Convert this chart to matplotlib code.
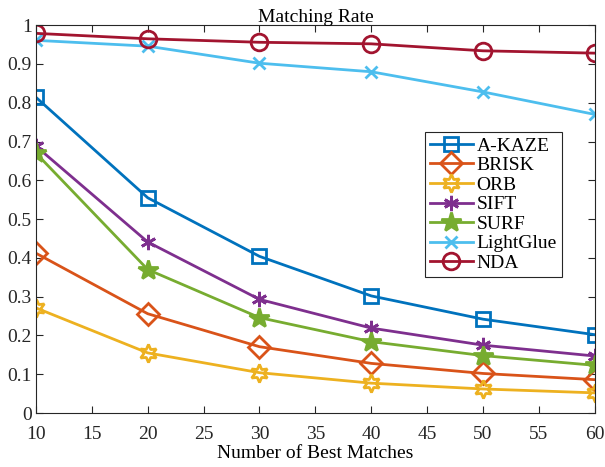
import matplotlib
matplotlib.use('Agg')
import matplotlib.pyplot as plt

plt.rcParams['font.family'] = ['Liberation Serif', 'DejaVu Serif']

matches = [10, 20, 30, 40, 50, 60]
akaze = [0.814, 0.555, 0.404, 0.302, 0.242, 0.202]
brisk = [0.412, 0.256, 0.171, 0.128, 0.102, 0.086]
orb = [0.271, 0.155, 0.104, 0.077, 0.062, 0.052]
sift = [0.688, 0.441, 0.293, 0.219, 0.175, 0.147]
surf = [0.670, 0.370, 0.246, 0.184, 0.148, 0.123]
lightglue = [0.961, 0.946, 0.902, 0.880, 0.828, 0.770]
nda = [0.979, 0.965, 0.956, 0.952, 0.934, 0.928]

names = ['A-KAZE', 'BRISK', 'ORB', 'SIFT', 'SURF', 'LightGlue', 'NDA']
series = [akaze, brisk, orb, sift, surf, lightglue, nda]
colors = ['#0072BD', '#D95319', '#EDB120', '#7E2F8E', '#77AC30', '#4DBEEE', '#A2142F']
markers = ['s', 'D', (6, 1, 0), (6, 2, 0), '*', 'x', 'o']
sizes = [10, 11, 13, 11, 15, 9, 12]
fills = ['none', 'none', 'none', None, None, None, 'none']

fig = plt.figure(figsize=(6.05, 4.67), dpi=100)
ax = fig.add_axes([0.0595, 0.1156, 0.9235, 0.8304])

for name, vals, c, m, s, f in zip(names, series, colors, markers, sizes, fills):
    kw = dict(color=c, marker=m, markersize=s, linewidth=2.0, markeredgewidth=2.0, label=name)
    if f is not None:
        kw['markerfacecolor'] = f
    else:
        kw['markerfacecolor'] = c
    ax.plot(matches, vals, **kw)

ax.set_xlim(10, 60)
ax.set_ylim(0, 1)
ax.set_xticks([10, 15, 20, 25, 30, 35, 40, 45, 50, 55, 60])
ax.set_yticks([0, 0.1, 0.2, 0.3, 0.4, 0.5, 0.6, 0.7, 0.8, 0.9, 1])
ax.set_yticklabels(['0', '0.1', '0.2', '0.3', '0.4', '0.5', '0.6', '0.7', '0.8', '0.9', '1'])
ax.tick_params(direction='in', top=True, right=True, labelsize=14, colors='#262626', length=5)
ax.tick_params(axis='x', pad=9)
ax.tick_params(axis='y', pad=3)
for sp in ax.spines.values():
    sp.set_color('#262626')
    sp.set_linewidth(0.8)
ax.set_xlabel('Number of Best Matches', fontsize=14, labelpad=2)
ax.set_title('Matching Rate', fontsize=14, pad=2)

leg = ax.legend(loc='upper left', bbox_to_anchor=(0.696, 0.724), fontsize=14, handlelength=2.2,
                fancybox=False, edgecolor='#262626', framealpha=1, borderpad=0.25,
                labelspacing=0.1, handletextpad=0.2, borderaxespad=0)
leg.get_frame().set_linewidth(0.8)

fig.savefig('out.png', dpi=100)
